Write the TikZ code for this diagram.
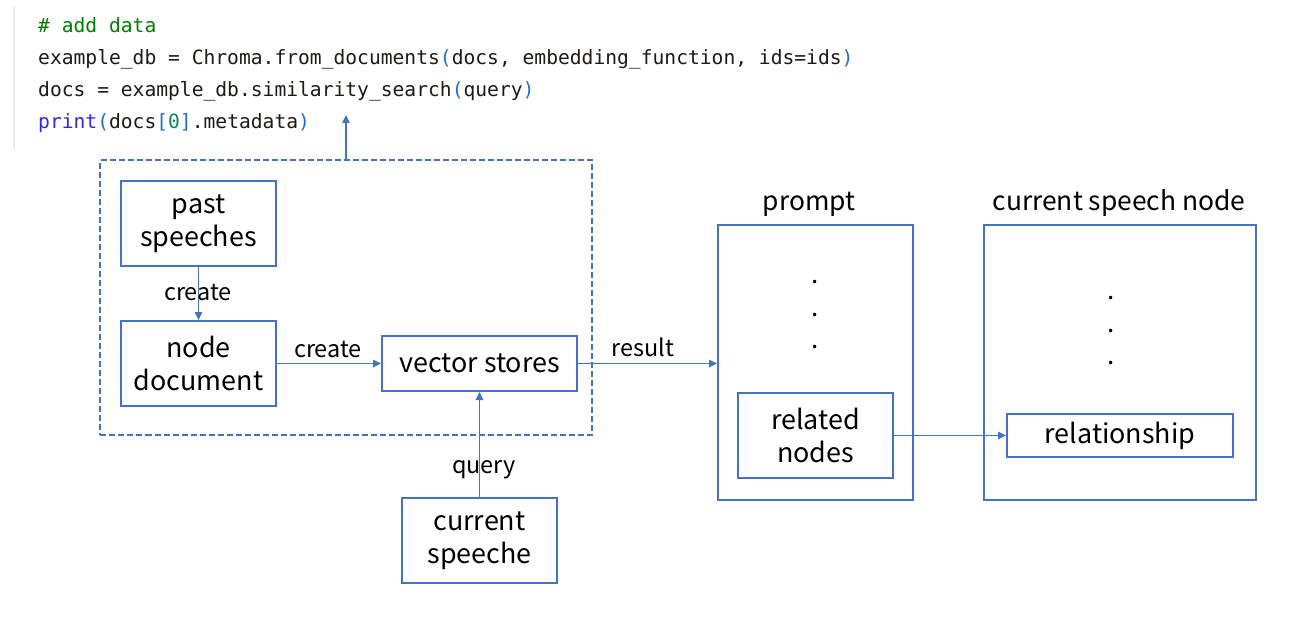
\documentclass[tikz,border=0pt]{standalone}
\usepackage{fontspec}
\setmainfont{Noto Sans CJK JP}
\newfontfamily\codefont{DejaVu Sans Mono}
\usetikzlibrary{arrows.meta}
\definecolor{obl}{HTML}{4472C4}
\definecolor{cgreen}{HTML}{008000}
\definecolor{cdark}{HTML}{1F1A14}
\definecolor{cbrack}{HTML}{1F6FD0}
\definecolor{cprint}{RGB}{48,40,230}
\definecolor{cnum}{HTML}{098658}
\definecolor{cline}{HTML}{EDEDED}
\tikzset{
  box/.style={draw=obl, line width=2bp, inner sep=0pt, align=center, text=black,
    font={\fontsize{27}{33}\selectfont}},
  dashbox/.style={draw=obl, line width=2bp, dash pattern=on 6bp off 3bp, inner sep=0pt},
  arr/.style={draw=obl, line width=1.2bp, -{Triangle[length=8bp,width=7.5bp]}},
  lbl/.style={font={\fontsize{23.5}{27}\selectfont}, text=black, inner sep=0pt, anchor=base},
  ttl/.style={font={\fontsize{26.5}{33}\selectfont}, text=black, inner sep=0pt, anchor=base},
  dotn/.style={font={\fontsize{26}{33}\selectfont}, text=black, inner sep=0pt},
  code/.style={font={\codefont\fontsize{19.7}{24}\selectfont}, text=cdark, inner sep=0pt, anchor=base west},
}
\begin{document}
\begin{tikzpicture}[x=1bp,y=-1bp]
\useasboundingbox (0,0) rectangle (1301,627);
% code cell
\draw[cline, line width=2bp] (14,7) -- (14,150);
\node[code] (c1) at (38,33) {\textcolor{cgreen}{\# add data}};
\node[code] (c2) at (38,65) {example\_db = Chroma.from\_documents\textcolor{cbrack}{(}docs, embedding\_function, ids=ids\textcolor{cbrack}{)}};
\node[code] (c3) at (38,97) {docs = example\_db.similarity\_search\textcolor{cbrack}{(}query\textcolor{cbrack}{)}};
\node[code] (c4) at (38,129) {\textcolor{cprint}{print}\textcolor{cbrack}{(}docs\textcolor{cbrack}{[}\textcolor{cnum}{0}\textcolor{cbrack}{]}.metadata\textcolor{cbrack}{)}};
\coordinate (codeend) at (346,115);
% group
\node[dashbox, minimum width=491bp, minimum height=275bp] (grp) at (346,297.5) {};
\node[box, minimum width=155bp, minimum height=85bp] (past) at (198.5,223.5) {past\\speeches};
\node[box, minimum width=155bp, minimum height=85bp] (nodedoc) at (198.5,363.5) {node\\document};
\node[box, minimum width=195bp, minimum height=55bp] (vs) at (479.5,363.5) {vector stores};
\node[box, minimum width=155bp, minimum height=85bp] (cur) at (479.5,540.5) {current\\speeche};
% right boxes
\node[box, minimum width=195bp, minimum height=275bp] (prompt) at (815.5,362.5) {};
\node[box, minimum width=272bp, minimum height=275bp] (csn) at (1120,362.5) {};
\node[box, minimum width=155bp, minimum height=85bp] (rel) at (815.5,435.5) {related\\nodes};
\node[box, minimum width=226bp, minimum height=43bp] (rship) at (1120,435.5) {relationship};
\node[ttl] (tprompt) at (809,210) {prompt};
\node[ttl] (tcsn) at (1119,210) {current speech node};
\node[dotn] (pd1) at (815,282) {.};
\node[dotn] (pd2) at (815,315) {.};
\node[dotn] (pd3) at (815,347) {.};
\node[dotn] (cd1) at (1111,298) {.};
\node[dotn] (cd2) at (1111,331) {.};
\node[dotn] (cd3) at (1111,363) {.};
% connectors
\draw[arr] (grp.north) -- (codeend);
\draw[arr] (past.south) -- (nodedoc.north);
\draw[arr] (nodedoc.east) -- (vs.west);
\draw[arr] (cur.north) -- (vs.south);
\draw[arr] (vs.east) -- (prompt.west |- vs.east);
\draw[arr] (rel.east) -- (rship.west);
% labels
\node[lbl] (l1) at (198,300) {create};
\node[lbl] (l2) at (328,357) {create};
\node[lbl] (l3) at (484,473) {query};
\node[lbl] (l4) at (643,356) {result};
\end{tikzpicture}
\end{document}
